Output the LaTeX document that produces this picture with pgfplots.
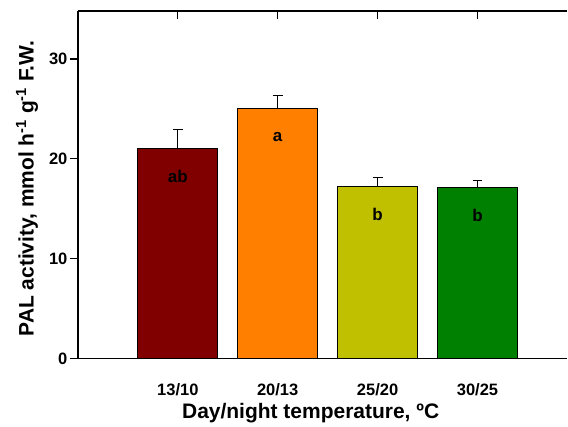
\documentclass[border=0pt]{standalone}
\usepackage{fontspec}
\setmainfont{Liberation Sans}
\usepackage{pgfplots}
\usepackage{pgfplotstable}
\pgfplotsset{compat=1.18}
\definecolor{c1}{HTML}{800000}
\definecolor{c2}{HTML}{FF8000}
\definecolor{c3}{HTML}{C0C000}
\definecolor{c4}{HTML}{008000}
\pgfplotstableread{
x y e l
1 21.0 1.9 ab
}\tA
\pgfplotstableread{
x y e l
2 25.0 1.35 a
}\tB
\pgfplotstableread{
x y e l
3 17.25 0.9 b
}\tC
\pgfplotstableread{
x y e l
4 17.1 0.75 b
}\tD
\begin{document}
\begin{tikzpicture}
\begin{axis}[
  scale only axis, width=490pt, height=348pt,
  xmin=0, xmax=4.9, ymin=0, ymax=34.8,
  axis x line=box, axis y line=left,
  axis line style={-, line width=1.2pt},
  xtick={1,2,3,4}, xticklabels={13/10,20/13,25/20,30/25},
  xtick style={draw=none},
  xticklabel pos=left,
  ytick={0,10,20,30}, ytick align=outside, ytick pos=left,
  major tick length=8pt,
  ytick style={line width=1.2pt, black},
  /pgf/number format/assume math mode=true,
  ticklabel style={font=\bfseries\fontsize{16.5}{18}\selectfont},
  xticklabel style={anchor=base, yshift=-29pt},
  yticklabel style={xshift=1pt},
  xlabel={Day/night temperature, ºC},
  ylabel={PAL activity, mmol h\textsuperscript{-1} g\textsuperscript{-1} F.W.},
  label style={font=\bfseries\fontsize{21}{23}\selectfont},
  xlabel style={at={(axis description cs:0.4755,0)}, anchor=base, yshift=-60pt},
  ylabel style={at={(axis description cs:-0.104,0.489)}, anchor=center},
  ybar, bar width=0.8, bar shift=0pt,
  point meta=explicit symbolic,
  nodes near coords,
  every node near coord/.append style={anchor=center, yshift=-28pt, black, font=\bfseries\fontsize{17}{18}\selectfont},
  clip=false,
]
\addplot[fill=c1, draw=black, line width=1pt, error bars/.cd, y dir=plus, y explicit, error bar style={line width=1pt, black}, error mark options={rotate=90, mark size=5pt, line width=1pt, black}] table[x=x, y=y, y error=e, meta=l] {\tA};
\addplot[fill=c2, draw=black, line width=1pt, error bars/.cd, y dir=plus, y explicit, error bar style={line width=1pt, black}, error mark options={rotate=90, mark size=5pt, line width=1pt, black}] table[x=x, y=y, y error=e, meta=l] {\tB};
\addplot[fill=c3, draw=black, line width=1pt, error bars/.cd, y dir=plus, y explicit, error bar style={line width=1pt, black}, error mark options={rotate=90, mark size=5pt, line width=1pt, black}] table[x=x, y=y, y error=e, meta=l] {\tC};
\addplot[fill=c4, draw=black, line width=1pt, error bars/.cd, y dir=plus, y explicit, error bar style={line width=1pt, black}, error mark options={rotate=90, mark size=5pt, line width=1pt, black}] table[x=x, y=y, y error=e, meta=l] {\tD};
\pgfplotsinvokeforeach{1,2,3,4}{\draw[line width=1.2pt] (axis cs:#1,34.8) -- ++(0pt,-8pt);}
\path (rel axis cs:0,1) -- ++(-78pt,11pt);
\path (rel axis cs:0,0) -- ++(-78pt,-63pt);
\end{axis}
\end{tikzpicture}
\end{document}
